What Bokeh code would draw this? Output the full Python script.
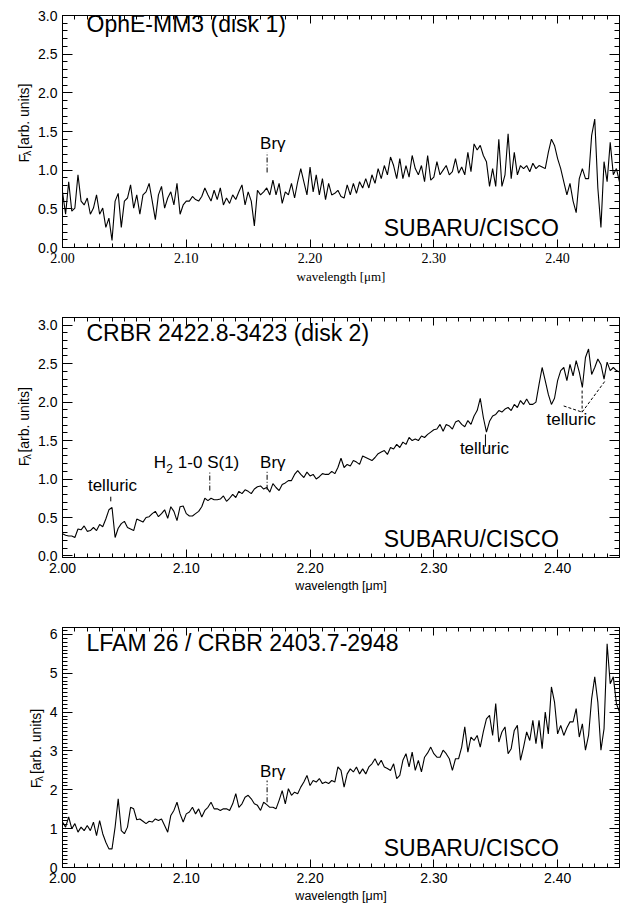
from bokeh.plotting import figure
from bokeh.layouts import column, row
from bokeh.models import (LinearAxis, Label, Range1d, SingleIntervalTicker,
                          PrintfTickFormatter, CustomJSTickFormatter)
from bokeh.embed import file_html
from bokeh.resources import INLINE

# ---------------- data ----------------
WAVE = [
    2.0000, 2.0025, 2.0050, 2.0075, 2.0100, 2.0125, 2.0150, 2.0175, 2.0200, 2.0225,
    2.0250, 2.0275, 2.0300, 2.0325, 2.0350, 2.0375, 2.0400, 2.0425, 2.0450, 2.0475,
    2.0500, 2.0525, 2.0550, 2.0575, 2.0600, 2.0625, 2.0650, 2.0675, 2.0700, 2.0725,
    2.0750, 2.0775, 2.0800, 2.0825, 2.0850, 2.0875, 2.0900, 2.0925, 2.0950, 2.0975,
    2.1000, 2.1025, 2.1050, 2.1075, 2.1100, 2.1125, 2.1150, 2.1175, 2.1200, 2.1225,
    2.1250, 2.1275, 2.1300, 2.1325, 2.1350, 2.1375, 2.1400, 2.1425, 2.1450, 2.1475,
    2.1500, 2.1525, 2.1550, 2.1575, 2.1600, 2.1625, 2.1650, 2.1675, 2.1700, 2.1725,
    2.1750, 2.1775, 2.1800, 2.1825, 2.1850, 2.1875, 2.1900, 2.1925, 2.1950, 2.1975,
    2.2000, 2.2025, 2.2050, 2.2075, 2.2100, 2.2125, 2.2150, 2.2175, 2.2200, 2.2225,
    2.2250, 2.2275, 2.2300, 2.2325, 2.2350, 2.2375, 2.2400, 2.2425, 2.2450, 2.2475,
    2.2500, 2.2525, 2.2550, 2.2575, 2.2600, 2.2625, 2.2650, 2.2675, 2.2700, 2.2725,
    2.2750, 2.2775, 2.2800, 2.2825, 2.2850, 2.2875, 2.2900, 2.2925, 2.2950, 2.2975,
    2.3000, 2.3025, 2.3050, 2.3075, 2.3100, 2.3125, 2.3150, 2.3175, 2.3200, 2.3225,
    2.3250, 2.3275, 2.3300, 2.3325, 2.3350, 2.3375, 2.3400, 2.3425, 2.3450, 2.3475,
    2.3500, 2.3525, 2.3550, 2.3575, 2.3600, 2.3625, 2.3650, 2.3675, 2.3700, 2.3725,
    2.3750, 2.3775, 2.3800, 2.3825, 2.3850, 2.3875, 2.3900, 2.3925, 2.3950, 2.3975,
    2.4000, 2.4025, 2.4050, 2.4075, 2.4100, 2.4125, 2.4150, 2.4175, 2.4200, 2.4225,
    2.4250, 2.4275, 2.4300, 2.4325, 2.4350, 2.4375, 2.4400, 2.4425, 2.4450, 2.4475,
    2.4500,
]

FLUX_OPHE = [
    0.72, 0.43, 0.85, 0.47, 0.51, 0.94, 0.60, 0.55, 0.64, 0.43,
    0.51, 0.68, 0.43, 0.51, 0.26, 0.38, 0.09, 0.60, 0.70, 0.26,
    0.60, 0.64, 0.81, 0.51, 0.68, 0.43, 0.68, 0.72, 0.83, 0.60,
    0.36, 0.68, 0.79, 0.51, 0.64, 0.72, 0.55, 0.83, 0.43, 0.55,
    0.60, 0.60, 0.66, 0.62, 0.60, 0.66, 0.77, 0.68, 0.60, 0.74,
    0.62, 0.77, 0.55, 0.64, 0.57, 0.68, 0.62, 0.72, 0.81, 0.55,
    0.72, 0.60, 0.28, 0.74, 0.68, 0.72, 0.77, 0.68, 0.87, 0.68,
    0.83, 0.57, 0.72, 0.68, 0.83, 0.64, 0.85, 1.02, 0.85, 0.68,
    1.04, 0.72, 0.94, 0.68, 0.89, 0.62, 0.83, 0.68, 0.70, 0.74,
    0.66, 0.64, 0.81, 0.68, 0.83, 0.70, 0.85, 0.77, 0.89, 0.77,
    0.94, 0.83, 1.02, 0.89, 1.06, 0.94, 1.17, 1.06, 0.89, 1.15,
    0.89, 1.06, 0.91, 1.19, 1.02, 0.94, 1.06, 0.85, 1.19, 0.87,
    0.91, 1.11, 0.94, 1.00, 1.06, 0.94, 0.98, 1.15, 0.96, 1.04,
    0.94, 1.23, 0.98, 1.34, 1.26, 1.32, 1.19, 1.11, 0.79, 1.02,
    0.79, 1.40, 0.79, 0.94, 1.47, 0.89, 1.23, 0.94, 1.06, 1.02,
    1.06, 0.98, 1.09, 1.02, 1.06, 1.04, 1.02, 1.23, 1.40, 1.32,
    1.15, 1.02, 0.85, 0.68, 0.83, 0.60, 0.45, 0.89, 1.02, 0.89,
    0.89, 1.45, 1.66, 0.77, 0.26, 1.11, 0.85, 1.36, 0.94, 1.02,
    0.85,
]

FLUX_CRBR = [
    0.29, 0.27, 0.26, 0.26, 0.24, 0.35, 0.34, 0.39, 0.32, 0.33,
    0.37, 0.33, 0.41, 0.38, 0.48, 0.60, 0.63, 0.24, 0.36, 0.42,
    0.45, 0.37, 0.35, 0.33, 0.48, 0.46, 0.44, 0.50, 0.51, 0.55,
    0.58, 0.51, 0.55, 0.60, 0.49, 0.64, 0.58, 0.46, 0.64, 0.65,
    0.55, 0.52, 0.52, 0.55, 0.58, 0.64, 0.75, 0.72, 0.75, 0.73,
    0.73, 0.74, 0.78, 0.71, 0.75, 0.80, 0.76, 0.84, 0.81, 0.86,
    0.84, 0.81, 0.87, 0.90, 0.91, 0.87, 0.89, 0.83, 0.94, 0.89,
    0.85, 0.93, 0.95, 0.98, 0.98, 1.06, 1.11, 1.06, 1.02, 1.09,
    1.04, 1.06, 1.00, 1.03, 1.07, 1.06, 1.06, 1.10, 1.07, 1.15,
    1.27, 1.15, 1.19, 1.17, 1.24, 1.22, 1.19, 1.30, 1.28, 1.26,
    1.24, 1.28, 1.33, 1.35, 1.37, 1.32, 1.41, 1.39, 1.45, 1.41,
    1.48, 1.45, 1.54, 1.50, 1.52, 1.50, 1.56, 1.54, 1.58, 1.61,
    1.64, 1.65, 1.71, 1.62, 1.71, 1.69, 1.65, 1.74, 1.76, 1.71,
    1.68, 1.76, 1.71, 1.82, 1.89, 2.05, 1.80, 1.61, 1.75, 1.82,
    1.84, 1.89, 1.87, 1.91, 1.93, 1.89, 1.97, 1.93, 2.02, 1.97,
    2.04, 1.97, 1.97, 2.00, 2.23, 2.45, 2.28, 2.10, 1.97, 2.05,
    2.28, 2.41, 2.45, 2.28, 2.49, 2.34, 2.54, 2.39, 2.19, 2.58,
    2.69, 2.36, 2.45, 2.56, 2.49, 2.30, 2.52, 2.41, 2.45, 2.41,
    2.39,
]

FLUX_LFAM = [
    1.17, 1.04, 1.30, 1.00, 1.13, 0.91, 1.04, 0.95, 1.08, 0.95,
    1.17, 0.82, 1.21, 0.87, 0.65, 0.48, 0.48, 1.04, 1.77, 0.95,
    0.87, 1.04, 1.55, 1.51, 1.23, 1.25, 1.19, 1.13, 1.19, 1.17,
    1.25, 1.21, 1.25, 1.08, 0.91, 1.34, 1.47, 1.68, 1.38, 1.17,
    1.38, 1.43, 1.55, 1.38, 1.51, 1.30, 1.47, 1.55, 1.68, 1.51,
    1.51, 1.47, 1.51, 1.51, 1.47, 1.64, 1.90, 1.55, 1.64, 1.81,
    1.86, 1.77, 1.64, 1.60, 1.47, 1.68, 1.62, 1.55, 1.55, 1.51,
    1.73, 1.98, 1.64, 2.03, 1.86, 1.94, 1.90, 2.07, 2.20, 2.37,
    2.11, 2.24, 2.20, 2.29, 2.16, 2.20, 2.16, 2.24, 2.20, 2.59,
    2.50, 2.07, 2.41, 2.54, 2.46, 2.59, 2.41, 2.54, 2.41, 2.59,
    2.67, 2.80, 2.63, 2.76, 2.59, 2.55, 2.50, 2.67, 2.29, 2.37,
    2.76, 2.93, 2.59, 2.97, 2.50, 2.76, 2.46, 2.84, 2.95, 3.10,
    2.93, 2.84, 2.84, 3.02, 2.93, 2.80, 2.50, 2.80, 2.80, 3.10,
    3.62, 2.97, 3.36, 3.27, 3.40, 3.10, 3.50, 3.83, 3.92, 3.40,
    4.22, 3.23, 3.49, 3.62, 2.93, 3.06, 3.53, 3.66, 2.76, 3.10,
    3.49, 3.27, 3.79, 3.19, 3.79, 3.06, 4.00, 3.44, 4.65, 4.26,
    3.44, 3.66, 3.40, 3.60, 3.75, 3.75, 4.09, 3.36, 3.70, 3.02,
    3.40, 4.35, 4.91, 4.26, 3.02, 3.57, 5.76, 4.73, 4.91, 4.22,
    4.00,
]

TITLES = ["OphE-MM3 (disk 1)", "CRBR 2422.8-3423 (disk 2)", "LFAM 26 / CRBR 2403.7-2948"]
INSTRUMENT = "SUBARU/CISCO"
X_LABEL = "wavelength [μm]"
Y_LABEL = ("F", "λ", "[arb. units]")

SANS = "Liberation Sans"
SERIF = "Liberation Serif"
BASE_SHIFT = 0.39  # baseline correction, fraction of font size


def make_panel(flux, y0, y1, ystep, yminor, yfmt, fh, left, top, bottom, xfont, xlabel_size):
    p = figure(frame_width=557, frame_height=fh,
               x_range=Range1d(2.0, 2.45), y_range=Range1d(y0, y1),
               output_backend="svg", toolbar_location=None,
               min_border_left=left, min_border_right=8,
               min_border_top=top, min_border_bottom=bottom,
               background_fill_color="white", border_fill_color="white")
    p.xgrid.visible = False
    p.ygrid.visible = False
    p.outline_line_color = "black"
    p.outline_line_width = 1

    xt = SingleIntervalTicker(interval=0.1, num_minor_ticks=10)
    yt = SingleIntervalTicker(interval=ystep, num_minor_ticks=yminor)

    xa = p.xaxis[0]
    xa.ticker = xt
    xa.formatter = PrintfTickFormatter(format="%.2f")
    xa.major_label_text_font = xfont
    xa.major_label_text_font_size = "14px"
    xa.major_label_standoff = 5
    xa.axis_label = X_LABEL
    xa.axis_label_text_font = xfont
    xa.axis_label_text_font_size = xlabel_size
    xa.axis_label_text_font_style = "normal"
    xa.axis_label_standoff = 3

    ya = p.yaxis[0]
    ya.ticker = yt
    ya.formatter = PrintfTickFormatter(format=yfmt)
    ya.major_label_text_font = SANS
    ya.major_label_text_font_size = "14px"
    ya.major_label_standoff = 5

    blank = CustomJSTickFormatter(code="return ''")
    top_ax = LinearAxis(ticker=xt, formatter=blank, major_label_standoff=0)
    right_ax = LinearAxis(ticker=yt, formatter=blank, major_label_standoff=0)
    p.add_layout(top_ax, "above")
    p.add_layout(right_ax, "right")

    for ax, big, small in ((xa, 8, 4), (top_ax, 8, 4), (ya, 10, 5), (right_ax, 10, 5)):
        ax.axis_line_color = "black"
        ax.axis_line_width = 1
        ax.major_tick_in = big
        ax.major_tick_out = 0
        ax.minor_tick_in = small
        ax.minor_tick_out = 0
        ax.major_tick_line_color = "black"
        ax.minor_tick_line_color = "black"
        ax.major_label_text_color = "black"
        ax.axis_label_text_color = "black"

    p.line(WAVE, flux, line_color="black", line_width=1.1)
    return p


def label_strip(width, height, base_x, start_y):
    """Narrow strip left of a panel that carries the rotated y title F_lambda [arb. units]."""
    s = figure(width=width, height=height, x_range=Range1d(0, width), y_range=Range1d(0, height),
               output_backend="svg", toolbar_location=None, min_border=0,
               x_axis_location=None, y_axis_location=None,
               background_fill_color="white", border_fill_color="white")
    s.outline_line_color = None
    s.grid.visible = False
    common = dict(angle=90, angle_units="deg", text_font=SANS, text_align="left",
                  text_baseline="alphabetic", text_color="black")
    s.add_layout(Label(x=base_x - BASE_SHIFT * 14, y=start_y, text=Y_LABEL[0],
                       text_font_size="14px", **common))
    s.add_layout(Label(x=base_x + 2 - BASE_SHIFT * 10, y=start_y + 8.8, text=Y_LABEL[1],
                       text_font_size="10px", **common))
    s.add_layout(Label(x=base_x - BASE_SHIFT * 14, y=start_y + 17.5, text=Y_LABEL[2],
                       text_font_size="14px", **common))
    return s


def text(p, x, y, s, size=17, align="left", x_offset=0, y_offset=0, **kw):
    p.add_layout(Label(x=x, y=y, text=s, text_font=SANS, text_font_size=f"{size}px",
                       text_align=align, text_baseline="alphabetic",
                       x_offset=x_offset, y_offset=y_offset + BASE_SHIFT * size,
                       text_color="black", **kw))


def vline(p, x, ya, yb, dash="5 2 1 2"):
    p.line([x, x], [ya, yb], line_color="black", line_width=1, line_dash=dash)


# ---- panel 1 ----
p1 = make_panel(FLUX_OPHE, 0.0, 3.0, 0.5, 5, "%.1f", 232, 28, 15, 53, SERIF, "13px")
text(p1, 2.0194, 2.77, TITLES[0], 23)
text(p1, 2.2595, 0.13, INSTRUMENT, 23)
text(p1, 2.1699, 1.26, "Brγ", 17, align="center")
vline(p1, 2.1653, 0.97, 1.23)
s1 = label_strip(34, 300, 28.5, 110)

# ---- panel 2 ----
p2 = make_panel(FLUX_CRBR, -0.02, 3.10, 0.5, 5, "%.1f", 240, 28, 17, 53, SANS, "12.5px")
text(p2, 2.0194, 2.78, TITLES[1], 23)
text(p2, 2.2595, 0.11, INSTRUMENT, 23)
text(p2, 2.1699, 1.13, "Brγ", 17, align="center")
vline(p2, 2.1653, 0.86, 1.10)
text(p2, 2.0738, 1.13, "H", 17)
text(p2, 2.0738, 1.13, "2", 12, x_offset=12.5, y_offset=-4)
text(p2, 2.0738, 1.13, "1-0 S(1)", 17, x_offset=24)
vline(p2, 2.1190, 0.85, 1.11)
text(p2, 2.0404, 0.83, "telluric", 17, align="center")
p2.line([2.039, 2.039], [0.71, 0.77], line_color="black", line_width=1)
text(p2, 2.3409, 1.31, "telluric", 17, align="center")
p2.line([2.3417, 2.3417], [1.42, 1.58], line_color="black", line_width=1)
text(p2, 2.4109, 1.69, "telluric", 17, align="center")
p2.line([2.4049, 2.4198], [1.95, 1.87], line_color="black", line_width=1, line_dash="3 2")
p2.line([2.4198, 2.4198], [2.15, 1.87], line_color="black", line_width=1, line_dash="3 2")
p2.line([2.4198, 2.4386], [1.87, 2.28], line_color="black", line_width=1, line_dash="3 2")
s2 = label_strip(34, 310, 28.5, 118)

# ---- panel 3 ----
p3 = make_panel(FLUX_LFAM, 0.0, 6.18, 1, 10, "%d", 240, 16, 17, 36, SANS, "12.5px")
text(p3, 2.0194, 5.55, TITLES[2], 23)
text(p3, 2.2595, 0.27, INSTRUMENT, 23)
text(p3, 2.1699, 2.29, "Brγ", 17, align="center")
vline(p3, 2.1653, 1.68, 2.24)
s3 = label_strip(46, 293, 40.5, 95)

layout = column(row(s1, p1, spacing=0), row(s2, p2, spacing=0), row(s3, p3, spacing=0), spacing=0)
open("out.html", "w").write(file_html(layout, INLINE))
